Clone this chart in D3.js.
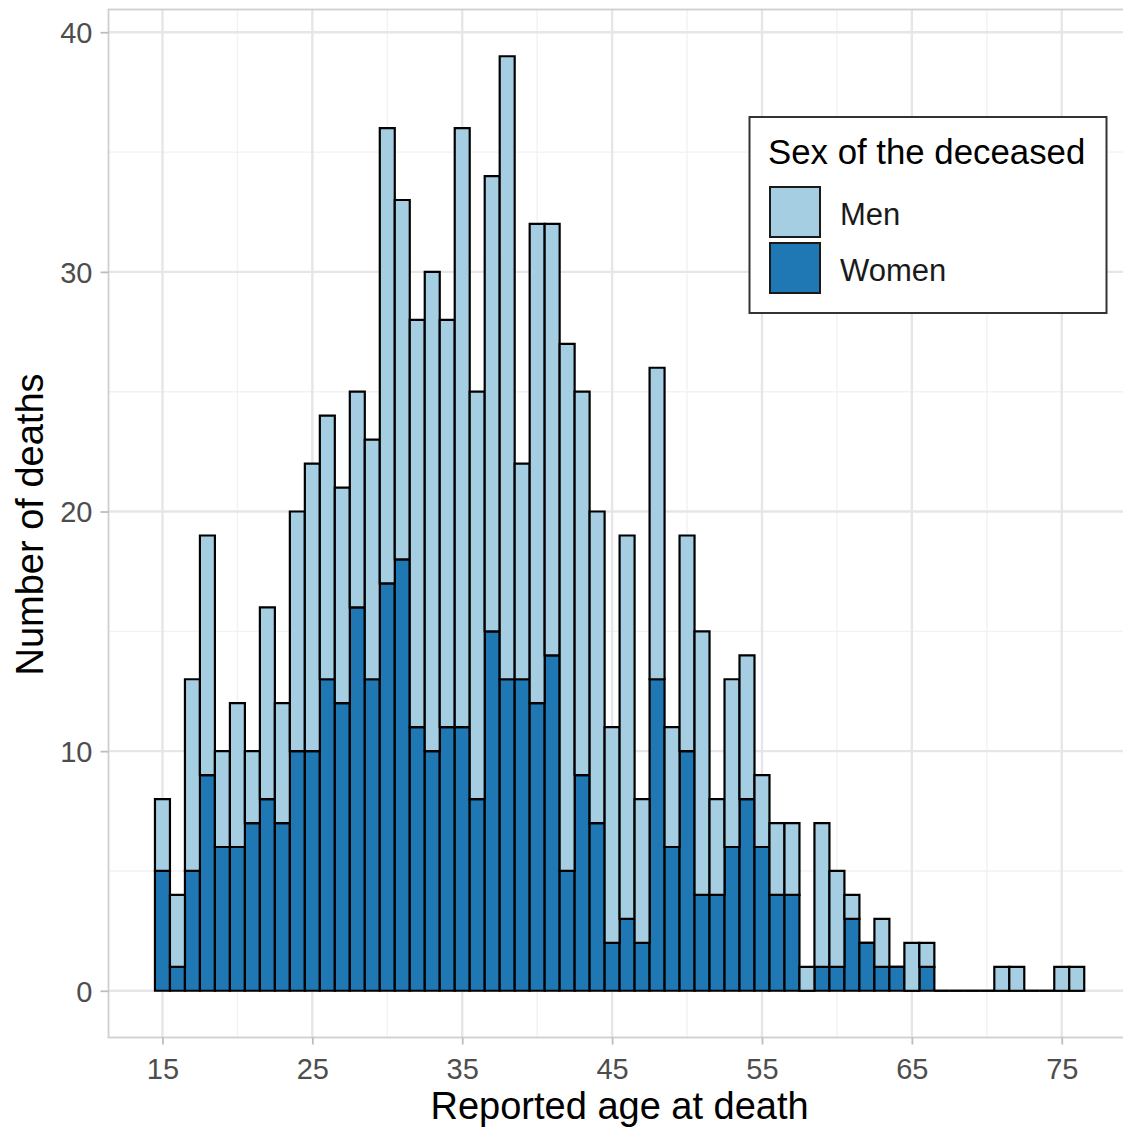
<!DOCTYPE html>
<html>
<head>
<meta charset="utf-8">
<script src="https://cdn.jsdelivr.net/npm/d3@7"></script>
<style>
  html, body { margin: 0; padding: 0; background: #ffffff; }
  svg { display: block; }
  text { font-family: "Liberation Sans", Arial, sans-serif; }
</style>
</head>
<body>
<svg id="chart" width="1123" height="1131"></svg>
<script>
// ---- Data ----
const ages = [15,16,17,18,19,20,21,22,23,24,25,26,27,28,29,30,31,32,33,34,35,36,37,38,39,40,
              41,42,43,44,45,46,47,48,49,50,51,52,53,54,55,56,57,58,59,60,61,62,63,64,65,66,
              67,68,69,70,71,72,73,74,75,76];
const women = [5,1,5,9,6,6,7,8,7,10,10,13,12,16,13,17,18,11,10,11,11,8,15,13,13,12,
               14,5,9,7,2,3,2,13,6,10,4,4,6,8,6,4,4,0,1,1,3,2,1,1,0,1,
               0,0,0,0,0,0,0,0,0,0];
const men = [3,3,8,10,4,6,3,8,5,10,12,11,9,9,10,19,15,17,20,17,25,17,19,26,9,20,
             18,22,16,13,9,16,6,13,5,9,11,4,7,6,3,3,3,1,6,4,1,0,2,0,2,1,
             0,0,0,0,1,1,0,0,1,1];
const seriesNames = ["Men", "Women"];
const seriesColors = ["#a6cee3", "#1f78b4"];
const xTicks = [15,25,35,45,55,65,75];
const xMinor = [20,30,40,50,60,70];
const yTicks = [0,10,20,30,40];
const yMinor = [5,15,25,35];

// ---- Layout ----
const svg = d3.select("#chart");
const panel = {left: 108.5, top: 9.5, right: 1130.7, bottom: 1037.5};

const x = d3.scaleLinear().domain([11.4, 79.6]).range([panel.left, panel.right]);
const y = d3.scaleLinear().domain([-1.95, 40.95]).range([panel.bottom, panel.top]);

svg.append("defs").append("clipPath").attr("id", "clip")
  .append("rect").attr("x", panel.left).attr("y", panel.top)
  .attr("width", panel.right - panel.left).attr("height", panel.bottom - panel.top);

const plot = svg.append("g").attr("clip-path", "url(#clip)");

// grid
plot.selectAll(".ymin").data(yMinor).join("line")
  .attr("x1", panel.left).attr("x2", panel.right)
  .attr("y1", d => y(d)).attr("y2", d => y(d))
  .attr("stroke", "#f2f2f2").attr("stroke-width", 1.4);
plot.selectAll(".xmin").data(xMinor).join("line")
  .attr("y1", panel.top).attr("y2", panel.bottom)
  .attr("x1", d => x(d)).attr("x2", d => x(d))
  .attr("stroke", "#f2f2f2").attr("stroke-width", 1.4);
plot.selectAll(".ymaj").data(yTicks).join("line")
  .attr("x1", panel.left).attr("x2", panel.right)
  .attr("y1", d => y(d)).attr("y2", d => y(d))
  .attr("stroke", "#e6e6e6").attr("stroke-width", 2.4);
plot.selectAll(".xmaj").data(xTicks).join("line")
  .attr("y1", panel.top).attr("y2", panel.bottom)
  .attr("x1", d => x(d)).attr("x2", d => x(d))
  .attr("stroke", "#e6e6e6").attr("stroke-width", 2.4);

// bars (stacked: women at bottom, men on top)
const stackData = ages.map((a, i) => ({age: a, Women: women[i], Men: men[i]}));
const stack = d3.stack().keys(["Women", "Men"])(stackData);
const colorOf = {Men: seriesColors[0], Women: seriesColors[1]};

function barPath(a, v0, v1) {
  const x0 = x(a - 0.5), x1 = x(a + 0.5), y0 = y(v0), y1 = y(v1);
  return `M${x0},${y0}H${x1}V${y1}H${x0}Z`;
}

stack.forEach(layer => {
  plot.append("g").selectAll("path").data(layer).join("path")
    .attr("d", d => barPath(d.data.age, d[0], d[1]))
    .attr("fill", colorOf[layer.key])
    .attr("stroke", "#000000")
    .attr("stroke-width", 2.2)
    .attr("stroke-linejoin", "miter");
});

// panel border
svg.append("rect")
  .attr("x", panel.left).attr("y", panel.top)
  .attr("width", panel.right - panel.left).attr("height", panel.bottom - panel.top)
  .attr("fill", "none").attr("stroke", "#cfcfcf").attr("stroke-width", 1.8);

// axes
const xAxis = svg.append("g").attr("transform", `translate(0,${panel.bottom})`)
  .call(d3.axisBottom(x).tickValues(xTicks).tickSize(7).tickPadding(6).tickFormat(d3.format("d")));
const yAxis = svg.append("g").attr("transform", `translate(${panel.left},0)`)
  .call(d3.axisLeft(y).tickValues(yTicks).tickSize(8).tickPadding(8).tickFormat(d3.format("d")));
[xAxis, yAxis].forEach(g => {
  g.select(".domain").remove();
  g.selectAll(".tick line").attr("stroke", "#bdbdbd").attr("stroke-width", 1.8);
  g.selectAll(".tick text").attr("fill", "#4d4d4d").style("font-size", "29px")
    .style("font-family", "'Liberation Sans', Arial, sans-serif");
});
xAxis.selectAll(".tick text").attr("dy", null).attr("y", 0)
  .attr("transform", "translate(0,41)");
yAxis.selectAll(".tick text").attr("dy", "0.36em");

// axis titles
svg.append("text")
  .attr("x", (panel.left + panel.right) / 2).attr("y", 1119)
  .attr("text-anchor", "middle").attr("fill", "#000")
  .style("font-size", "38px")
  .text("Reported age at death");
svg.append("text")
  .attr("transform", `translate(43,${(panel.top + panel.bottom) / 2 + 1}) rotate(-90)`)
  .attr("text-anchor", "middle").attr("fill", "#000")
  .style("font-size", "38px")
  .text("Number of deaths");

// legend
const lg = svg.append("g");
lg.append("rect").attr("x", 749.5).attr("y", 117).attr("width", 357).attr("height", 196)
  .attr("fill", "#ffffff").attr("stroke", "#333333").attr("stroke-width", 2);
lg.append("text").attr("x", 768).attr("y", 164).attr("fill", "#000")
  .style("font-size", "34.8px").text("Sex of the deceased");
seriesNames.forEach((name, i) => {
  const ky = 187 + i * 56;
  lg.append("rect").attr("x", 770).attr("y", ky).attr("width", 50).attr("height", 50)
    .attr("fill", seriesColors[i]).attr("stroke", "#1a1a1a").attr("stroke-width", 2);
  lg.append("text").attr("x", 840).attr("y", ky + 38).attr("fill", "#1a1a1a")
    .style("font-size", "31px").text(name);
});
</script>
</body>
</html>
